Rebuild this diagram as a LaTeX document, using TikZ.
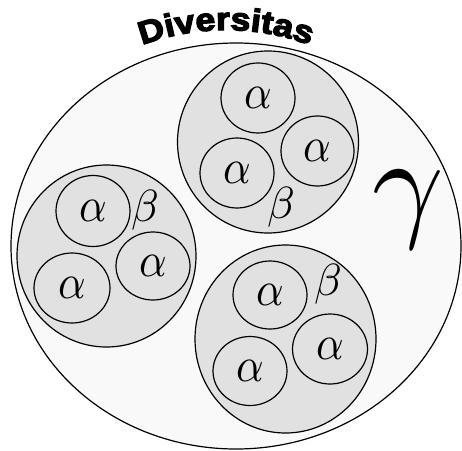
\documentclass[tikz,border=0pt]{standalone}
\usepackage{fontspec}
\usepackage{graphicx}
\usetikzlibrary{shapes.geometric,decorations.text}
\newfontfamily\titlefont[UprightFont=* Bold, FakeBold=4, FakeStretch=1.12]{Liberation Sans}
\newcommand\spA{\scalebox{4.3}[4.9]{$\alpha$}}
\newcommand\spB{\scalebox{4.5}{$\beta$}}
\newcommand\spG{\scalebox{12.5}{$\gamma$}}
\definecolor{worldfill}{HTML}{F9F9F9}
\definecolor{grpfill}{HTML}{E1E1E1}
\tikzset{
  world/.style={ellipse, draw, line width=1.2pt, fill=worldfill, inner sep=0pt,
    minimum width=450pt, minimum height=406pt},
  grp/.style={ellipse, draw, line width=1.2pt, fill=grpfill, inner sep=0pt},
  spc/.style={ellipse, draw, line width=1.2pt, fill=grpfill, inner sep=0pt},
  lbl/.style={inner sep=0pt}
}
\begin{document}
\begin{tikzpicture}[x=1pt,y=-1pt]
\useasboundingbox (0,0) rectangle (462,450);
\node[world] (W) at (236,246) {};
% groups
\node[grp, minimum width=181pt, minimum height=182pt] (G1) at (268,142) {};
\node[grp, minimum width=179pt, minimum height=182pt] (G2) at (106.5,256) {};
\node[grp, minimum width=181pt, minimum height=188pt] (G3) at (285.5,339) {};
% top group
\node[spc, minimum width=74pt, minimum height=70pt] (a11) at (258,98) {\spA};
\node[spc, minimum width=74pt, minimum height=70pt] (a12) at (237,173) {\spA};
\node[spc, minimum width=73pt, minimum height=70pt] (a13) at (317.5,151) {\spA};
\node[lbl] (b1) at (281,207) {\spB};
% left group
\node[spc, minimum width=74pt, minimum height=71pt] (a21) at (93,211) {\spA};
\node[spc, minimum width=76pt, minimum height=70pt] (a22) at (72,288) {\spA};
\node[spc, minimum width=74pt, minimum height=68pt] (a23) at (153,266) {\spA};
\node[lbl] (b2) at (145,210) {\spB};
% bottom group
\node[spc, minimum width=74pt, minimum height=68pt] (a31) at (270,295) {\spA};
\node[spc, minimum width=74pt, minimum height=69pt] (a32) at (250,371) {\spA};
\node[spc, minimum width=75pt, minimum height=70pt] (a33) at (330,349) {\spA};
\node[lbl] (b3) at (328,284) {\spB};
% gamma
\node[lbl] (g) at (408,210) {\spG};
% title
\path[decorate, decoration={text along path,
  text={|\titlefont\fontsize{32}{32}\selectfont|Diversitas}, text align=center}]
  (226,270) ++(-112:240) arc[start angle=-112, end angle=-68, radius=240];
\end{tikzpicture}
\end{document}
